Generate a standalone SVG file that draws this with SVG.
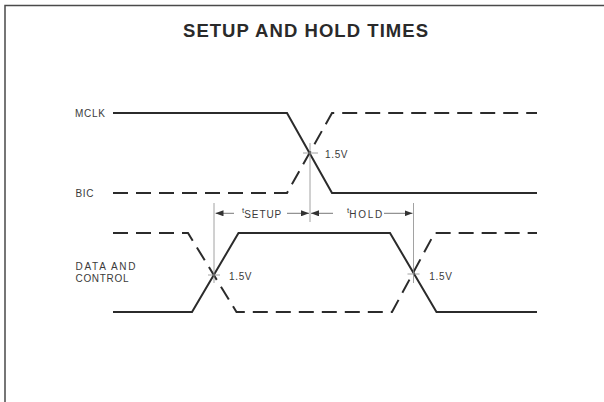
<svg xmlns="http://www.w3.org/2000/svg" width="604" height="402" viewBox="0 0 604 402">
<defs>
<style>
.sig{fill:none;stroke:#2b2b2b;stroke-width:2;stroke-linejoin:miter}
.dash{stroke-dasharray:15 8}
.thin{fill:none;stroke:#8a8a8a;stroke-width:0.8}
.arr{fill:none;stroke:#555;stroke-width:0.8}
.lbl{font-family:"Liberation Sans",Arial,sans-serif;font-size:10px;fill:#3a3a3a}
.ttl{font-family:"Liberation Sans",Arial,sans-serif;font-size:18.5px;font-weight:bold;fill:#2a2a2a}
</style>
<marker id="ah" viewBox="0 0 8 6" refX="8" refY="3" markerWidth="8" markerHeight="6" markerUnits="userSpaceOnUse" orient="auto-start-reverse">
<path d="M0,0 L8,3 L0,6 Z" fill="#333"/>
</marker>
</defs>
<rect width="604" height="402" fill="#ffffff"/>
<path d="M5,402 V5.5 H604" fill="none" stroke="#4a4a4a" stroke-width="1.5"/>
<text class="ttl" x="183" y="36.7" textLength="245" lengthAdjust="spacing">SETUP AND HOLD TIMES</text>

<g id="mclk">
<text class="lbl" x="75" y="116.5" textLength="30" lengthAdjust="spacing">MCLK</text>
<path class="sig" d="M113,113 H287 L332,193 H537"/>
</g>
<g id="bic">
<text class="lbl" x="75.5" y="196.7" textLength="18" lengthAdjust="spacing">BIC</text>
<path class="sig dash" d="M113,193 H287 L332,113 H537"/>
</g>
<g id="data-control">
<text class="lbl" x="75.5" y="270" textLength="60" lengthAdjust="spacing">DATA AND</text>
<text class="lbl" x="75.5" y="281.7" textLength="53" lengthAdjust="spacing">CONTROL</text>
<path class="sig" d="M113,312 H192 L238.5,233 H390 L436.5,312 H537"/>
<path class="sig dash" d="M113,233 H188 L236.5,312 H392 L434.6,233 H537"/>
</g>

<g id="connectors">
<line class="thin" x1="310" y1="143" x2="310" y2="222"/>
<line class="thin" x1="303" y1="153" x2="318" y2="153"/>
<line class="thin" x1="214" y1="203" x2="214" y2="283"/>
<line class="thin" x1="208" y1="275" x2="220" y2="275"/>
<line class="thin" x1="413.5" y1="203" x2="413.5" y2="283"/>
<line class="thin" x1="407.5" y1="274" x2="419.5" y2="274"/>
<line class="arr" x1="234" y1="213.3" x2="215.5" y2="213.3" marker-end="url(#ah)"/>
<line class="arr" x1="287" y1="213.3" x2="309" y2="213.3" marker-end="url(#ah)"/>
<line class="arr" x1="333" y1="213.3" x2="311" y2="213.3" marker-end="url(#ah)"/>
<line class="arr" x1="384" y1="213.3" x2="412.5" y2="213.3" marker-end="url(#ah)"/>
</g>

<g id="timing-labels">
<text class="lbl" x="242" y="213"><tspan font-size="8">t</tspan><tspan dy="5" textLength="37" lengthAdjust="spacing">SETUP</tspan></text>
<text class="lbl" x="347" y="213"><tspan font-size="8">t</tspan><tspan dy="5" textLength="33" lengthAdjust="spacing">HOLD</tspan></text>
<text class="lbl" x="325" y="158.3" textLength="22.5" lengthAdjust="spacing">1.5V</text>
<text class="lbl" x="229" y="280" textLength="22.5" lengthAdjust="spacing">1.5V</text>
<text class="lbl" x="429.3" y="280" textLength="22.5" lengthAdjust="spacing">1.5V</text>
</g>
</svg>
